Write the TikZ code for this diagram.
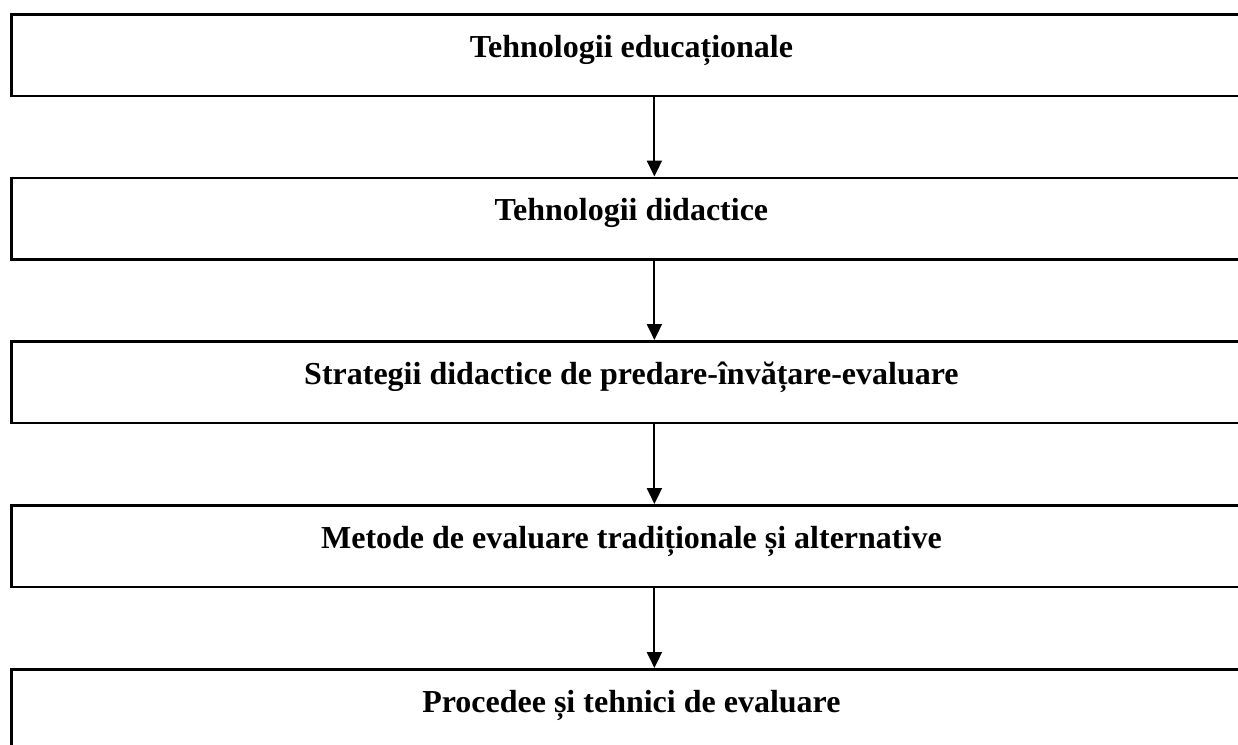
\documentclass[tikz,border=0pt]{standalone}
\usepackage{fontspec}
\setmainfont{Liberation Serif}
\usetikzlibrary{arrows.meta}
\begin{document}
\begin{tikzpicture}[x=1pt,y=-1pt,
  levelbox/.style={draw=black, line width=2.8pt, rectangle, minimum width=1240pt,
    minimum height=81.5pt, anchor=north west, inner sep=0pt},
  leveltext/.style={anchor=base, inner sep=0pt,
    font=\fontsize{32}{38}\selectfont\bfseries},
  flow/.style={line width=2pt, -{Triangle[length=16pt,width=15pt]}}]
\useasboundingbox (0,0) rectangle (1238,744);
\clip (0,0) rectangle (1238,744);
% the five levels, from the general down to the particular
\node[levelbox] (b1) at (10,13) {};
\node[levelbox] (b2) at (10,176.5) {};
\node[levelbox] (b3) at (10,340) {};
\node[levelbox] (b4) at (10,504) {};
\node[levelbox] (b5) at (10,668) {};
\node[leveltext] (t1) at ([yshift=-44pt]b1.north) {Tehnologii educaționale};
\node[leveltext] (t2) at ([yshift=-44pt]b2.north) {Tehnologii didactice};
\node[leveltext] (t3) at ([yshift=-44pt]b3.north) {Strategii didactice de predare-învățare-evaluare};
\node[leveltext] (t4) at ([yshift=-44pt]b4.north) {Metode de evaluare tradiționale și alternative};
\node[leveltext] (t5) at ([yshift=-44pt]b5.north) {Procedee și tehnici de evaluare};
% connectors between consecutive levels
\foreach \a/\b in {b1/b2,b2/b3,b3/b4,b4/b5}
  \draw[flow] ([xshift=23pt]\a.south) -- ([xshift=23pt]\b.north);
\end{tikzpicture}
\end{document}
